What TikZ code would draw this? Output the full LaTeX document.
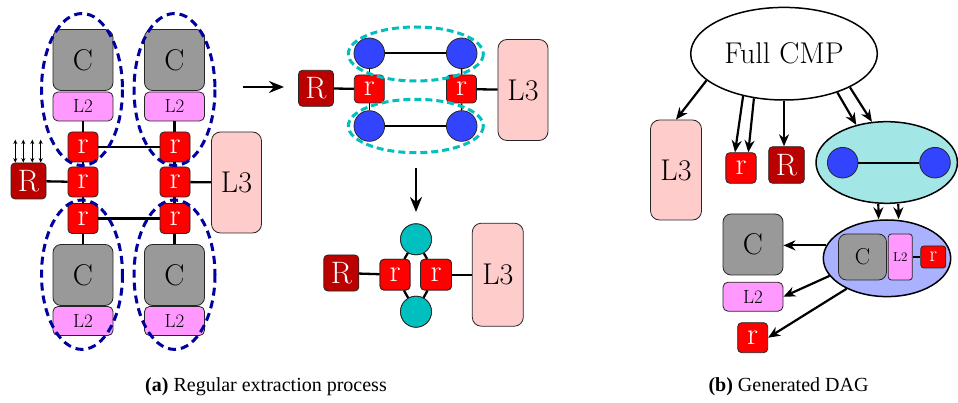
\documentclass[tikz,border=0pt]{standalone}
\usepackage{fontspec}
\newfontfamily\capfont{Liberation Serif}
\usetikzlibrary{arrows.meta,shapes.geometric,calc}
\definecolor{cgray}{RGB}{153,153,153}
\definecolor{lviolet}{RGB}{255,153,255}
\definecolor{rred}{RGB}{255,0,0}
\definecolor{Rdark}{RGB}{187,0,0}
\definecolor{lpink}{RGB}{255,204,204}
\definecolor{bluec}{RGB}{51,68,255}
\definecolor{cyanc}{RGB}{0,191,191}
\definecolor{cyanfill}{RGB}{163,230,230}
\definecolor{bluefill}{RGB}{170,178,255}
\definecolor{navy}{RGB}{0,0,160}
\tikzset{
  box/.style={draw=black!85, line width=0.8pt, inner sep=0pt},
  Cbox/.style={box, fill=cgray, rounded corners=8pt, minimum width=60pt, minimum height=61pt, font=\fontsize{30}{30}\selectfont},
  Ltwo/.style={box, fill=lviolet, rounded corners=5pt, minimum width=60pt, minimum height=29pt, font=\fontsize{19}{19}\selectfont},
  rbox/.style={box, fill=rred, text=white, rounded corners=4pt, minimum width=30pt, minimum height=30pt, font=\fontsize{31}{31}\selectfont},
  Rbox/.style={box, fill=Rdark, text=white, rounded corners=4pt, minimum width=35pt, minimum height=36pt, font=\fontsize{31}{31}\selectfont},
  Lthree/.style={box, fill=lpink, rounded corners=9pt, minimum width=50pt, minimum height=101pt, font=\fontsize{30}{30}\selectfont},
  bdot/.style={circle, draw=black!85, line width=0.8pt, fill=bluec, minimum size=30.6pt, inner sep=0pt},
  cdot/.style={circle, draw=black!85, line width=0.8pt, fill=cyanc, minimum size=31pt, inner sep=0pt},
  wire/.style={line width=2.3pt},
  dag/.style={line width=2.2pt, -{Stealth[length=12pt,width=10pt]}},
  bigarrow/.style={line width=2.2pt, -{Stealth[length=15pt,width=12pt]}},
  navyring/.style={draw=navy, line width=3pt, dash pattern=on 8pt off 5pt},
  cyanring/.style={draw=cyanc, line width=3pt, dash pattern=on 7pt off 4pt},
}
\begin{document}
\begin{tikzpicture}[x=1pt,y=-1pt]
\useasboundingbox[fill=white] (0,0) rectangle (958,403);

% ---------------- (a) left: original CMP ----------------
\node[Cbox] (C1) at (83,60) {C};
\node[Ltwo] (La) at (83,106.5) {L2};
\node[Cbox] (C2) at (174.5,60) {C};
\node[Ltwo] (Lb) at (174.5,106.5) {L2};
\node[Cbox] (C3) at (83,275) {C};
\node[Ltwo] (Lc) at (83,321) {L2};
\node[Cbox] (C4) at (174.5,275) {C};
\node[Ltwo] (Ld) at (174.5,321) {L2};

\draw[wire] (La.south) -- (C3.north);
\draw[wire] (Lb.south) -- (C4.north);

\node[rbox] (r11) at (83,147) {r};
\node[rbox] (r12) at (175,147) {r};
\node[rbox] (r21) at (83,182) {r};
\node[rbox] (r22) at (175,182) {r};
\node[rbox] (r31) at (83,218.5) {r};
\node[rbox] (r32) at (175,218.5) {r};
\draw[wire] (r11) -- (r12);
\draw[wire] (r31) -- (r32);

\node[Rbox] (R1) at (28.5,181) {R};
\node[Lthree] (L31) at (236.5,182.5) {L3};
\draw[wire] (R1) -- (r21);
\draw[wire] (r22) -- (L31);

\foreach \dx in {-13.2,-5.2,3.8,12.2}
  \draw[line width=1.1pt, {Stealth[length=4.5pt,width=4pt]}-{Stealth[length=4.5pt,width=4pt]}]
    ([xshift=\dx pt]R1.north) -- ++(0,-23);

\draw[navyring] (82,89.5) ellipse [x radius=40.5, y radius=76];
\draw[navyring] (174.5,89.5) ellipse [x radius=40.5, y radius=76];
\draw[navyring] (82,274.7) ellipse [x radius=40.5, y radius=74.7];
\draw[navyring] (174.5,274.7) ellipse [x radius=40.5, y radius=74.7];

\coordinate (ha) at (243,87);
\coordinate (hb) at (284,87);
\draw[bigarrow] (ha) -- (hb);

% ---------------- (a) middle top ----------------
\node[Rbox] (R2) at (316,88.3) {R};
\node[rbox, minimum height=28pt] (m1) at (369.3,89) {r};
\node[rbox, minimum height=28pt] (m2) at (461.5,89) {r};
\node[Lthree] (L32) at (523,90) {L3};
\draw[wire] (R2) -- (m1);
\draw[wire] (m2) -- (L32);
\node[bdot] (b1) at (369.3,53.3) {};
\node[bdot] (b2) at (461.7,53.3) {};
\node[bdot] (b3) at (369.3,126) {};
\node[bdot] (b4) at (461.7,126) {};
\draw[wire] (b1) -- (b2);
\draw[wire] (b3) -- (b4);
\draw[line width=1.4pt] (b1) -- (m1) -- (b3);
\draw[line width=1.4pt] (b2) -- (m2) -- (b4);
\draw[cyanring] (415.8,54) ellipse [x radius=67.5, y radius=27];
\draw[cyanring] (415.8,126) ellipse [x radius=67.5, y radius=26.7];

\coordinate (va) at (416,168);
\coordinate (vb) at (416,212);
\draw[bigarrow] (va) -- (vb);

% ---------------- (a) middle bottom ----------------
\node[cdot] (k1) at (416,239.3) {};
\node[cdot] (k2) at (416,311.7) {};
\node[Rbox] (R3) at (341.3,273) {R};
\node[rbox, minimum height=30.7pt] (n1) at (395,274.7) {r};
\node[rbox, minimum width=31pt, minimum height=30.7pt] (n2) at (436,274.7) {r};
\node[Lthree, minimum width=51pt, minimum height=103pt] (L33) at (497.8,274.7) {L3};
\begin{scope}[line width=2.3pt]
\draw (k1) -- (n1); \draw (k1) -- (n2);
\draw (k2) -- (n1); \draw (k2) -- (n2);
\end{scope}
\node[cdot] at (k1) {};
\node[cdot] at (k2) {};
\node[rbox, minimum height=30.7pt] at (n1) {r};
\node[rbox, minimum width=31pt, minimum height=30.7pt] at (n2) {r};
\draw[wire] (R3) -- (n1);
\draw[wire] (n2) -- (L33);

% ---------------- (b) DAG ----------------
\node[ellipse, draw, line width=1.5pt, fill=white, minimum width=186.6pt, minimum height=92.6pt, inner sep=0pt,
      font=\fontsize{30}{30}\selectfont] (FC) at (784,53.7) {Full CMP};
\node[Lthree, minimum width=51pt, minimum height=100pt] (L3d) at (676,170) {L3};
\node[rbox, minimum width=30.3pt, minimum height=30.6pt] (rd) at (741,168) {r};
\node[Rbox, minimum width=35.6pt, minimum height=36.6pt] (Rd) at (786.5,165) {R};
\node[ellipse, draw, line width=1.5pt, fill=cyanfill, minimum width=141.4pt, minimum height=81.6pt, inner sep=0pt] (CE) at (886.7,162.5) {};
\node[bdot] (e1) at (842.7,162.7) {};
\node[bdot] (e2) at (935,162.7) {};
\draw[wire] (e1) -- (e2);

\node[ellipse, draw, line width=1.5pt, fill=bluefill, minimum width=127.4pt, minimum height=76.6pt, inner sep=0pt] (BE) at (887,258.3) {};
\node[Cbox, minimum width=48pt, minimum height=46pt, font=\fontsize{23}{23}\selectfont] (iC) at (862.5,257) {C};
\node[Ltwo, minimum width=24pt, minimum height=46pt, rounded corners=3pt, font=\fontsize{13}{13}\selectfont] (iL) at (900.3,257) {L2};
\node[rbox, minimum width=25pt, minimum height=22pt, rounded corners=3pt, font=\fontsize{22}{22}\selectfont] (ir) at (933.3,257) {r};
\draw[line width=1.5pt] (iL) -- (ir);

\node[Cbox] (Cd) at (753,244.5) {C};
\node[Ltwo] (L2d) at (753,296.7) {L2};
\node[rbox] (rd2) at (752.7,337.7) {r};

\draw[dag] (FC.199.6) -- (L3d.north);
\draw[dag] (FC.226.6) -- ([xshift=-6pt]rd.north);
\draw[dag] (FC.236.8) -- ([xshift=7.3pt]rd.north);
\draw[dag] (FC.south) -- (FC.south |- Rd.north);
\draw[dag] (FC.324.8) -- (CE.129);
\draw[dag] (FC.333.8) -- (CE.110.8);
\draw[dag] ([xshift=-8.4pt]CE.south) -- ([xshift=-8.4pt]BE.north);
\draw[dag] ([xshift=11.6pt]CE.south) -- ([xshift=11.6pt]BE.north);
\draw[dag] (BE.168) -- (BE.168 -| Cd.east);
\draw[dag] (BE.197.9) -- (L2d.east);
\draw[dag] (BE.217.8) -- (rd2.east);

% ---------------- captions ----------------
\node[anchor=base, inner sep=0pt, font=\capfont\fontsize{20}{20}\selectfont] (capa) at (266,391) {\textbf{(a)} Regular extraction process};
\node[anchor=base, inner sep=0pt, font=\capfont\fontsize{20}{20}\selectfont] (capb) at (788.5,391) {\textbf{(b)} Generated DAG};
\end{tikzpicture}
\end{document}
